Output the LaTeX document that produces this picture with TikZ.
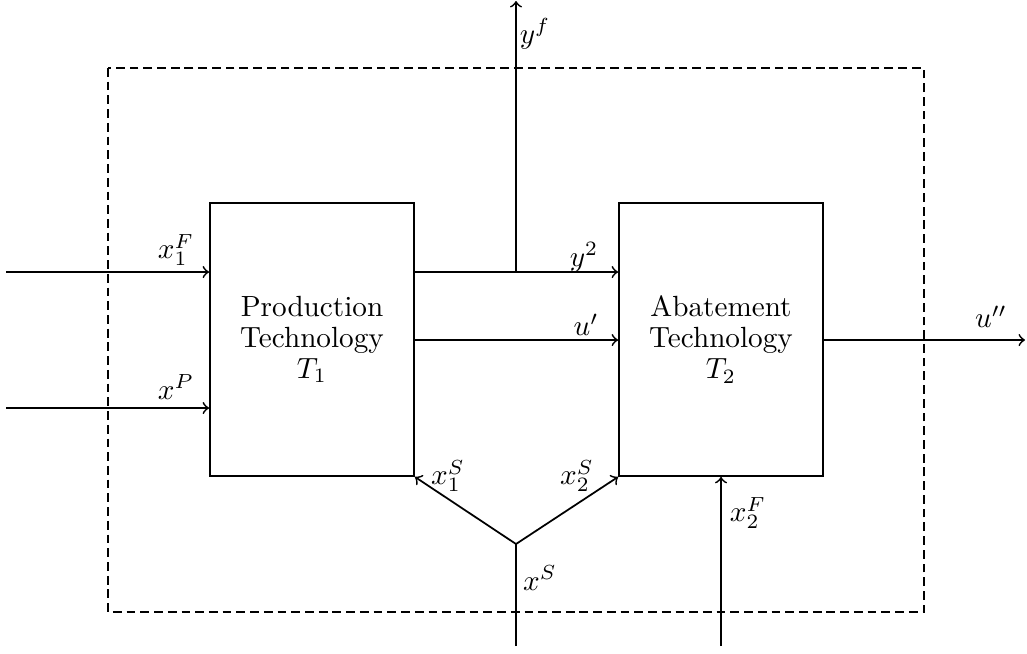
\documentclass[tikz,border=0pt]{standalone}
\usetikzlibrary{calc}
\begin{document}
\begin{tikzpicture}[x=0.3425pt,y=-0.3425pt,
  every path/.style={line width=0.6pt},
  techbox/.style={draw,rectangle,inner sep=0pt,minimum width=69.9pt,minimum height=93.5pt,
    align=center,font=\fontsize{10}{10.6}\selectfont},
  flow/.style={->},
  boundary/.style={dash pattern=on 3pt off 1.7pt},
  lab/.style={inner sep=0pt}]
\useasboundingbox (0,0) rectangle (1027,653);
% system boundary
\draw[boundary] (108,68) rectangle (924,612);
% technology boxes
\node[techbox] (T1) at (312,339.5) {Production\\Technology\\$T_1$};
\node[techbox] (T2) at (721,339.5) {Abatement\\Technology\\$T_2$};
% coordinates
\coordinate (inF) at (6,272);
\coordinate (inP) at (6,408);
\coordinate (br) at (516,272);
\coordinate (yf) at (516,1);
\coordinate (uout) at (1025,340);
\coordinate (xsin) at (516,646);
\coordinate (xsj) at (516,544);
\coordinate (xFin) at (721,646);
% connectors
\draw[flow] (inF) -- (T1.west |- inF);
\draw[flow] (inP) -- (T1.west |- inP);
\draw[flow] (T1.east |- br) -- (T2.west |- br);
\draw[flow] (br) -- (yf);
\draw[flow] (T1.east |- uout) -- (T2.west |- uout);
\draw[flow] (T2.east |- uout) -- (uout);
\draw (xsin) -- (xsj);
\draw[flow] (xsj) -- (T1.south east);
\draw[flow] (xsj) -- (T2.south west);
\draw[flow] (xFin) -- (T2.south);
% labels
\node[lab] (l1) at (176,250) {$x_1^F$};
\node[lab] (l2) at (176,387) {$x^P$};
\node[lab] (l3) at (535,34) {$y^f$};
\node[lab] (l4) at (584,257) {$y^2$};
\node[lab] (l5) at (586,325) {$u'$};
\node[lab] (l6) at (991,317) {$u''$};
\node[lab] (l7) at (448,476) {$x_1^S$};
\node[lab] (l8) at (577,476) {$x_2^S$};
\node[lab] (l9) at (540,578) {$x^S$};
\node[lab] (l10) at (748,513) {$x_2^F$};
\end{tikzpicture}
\end{document}
